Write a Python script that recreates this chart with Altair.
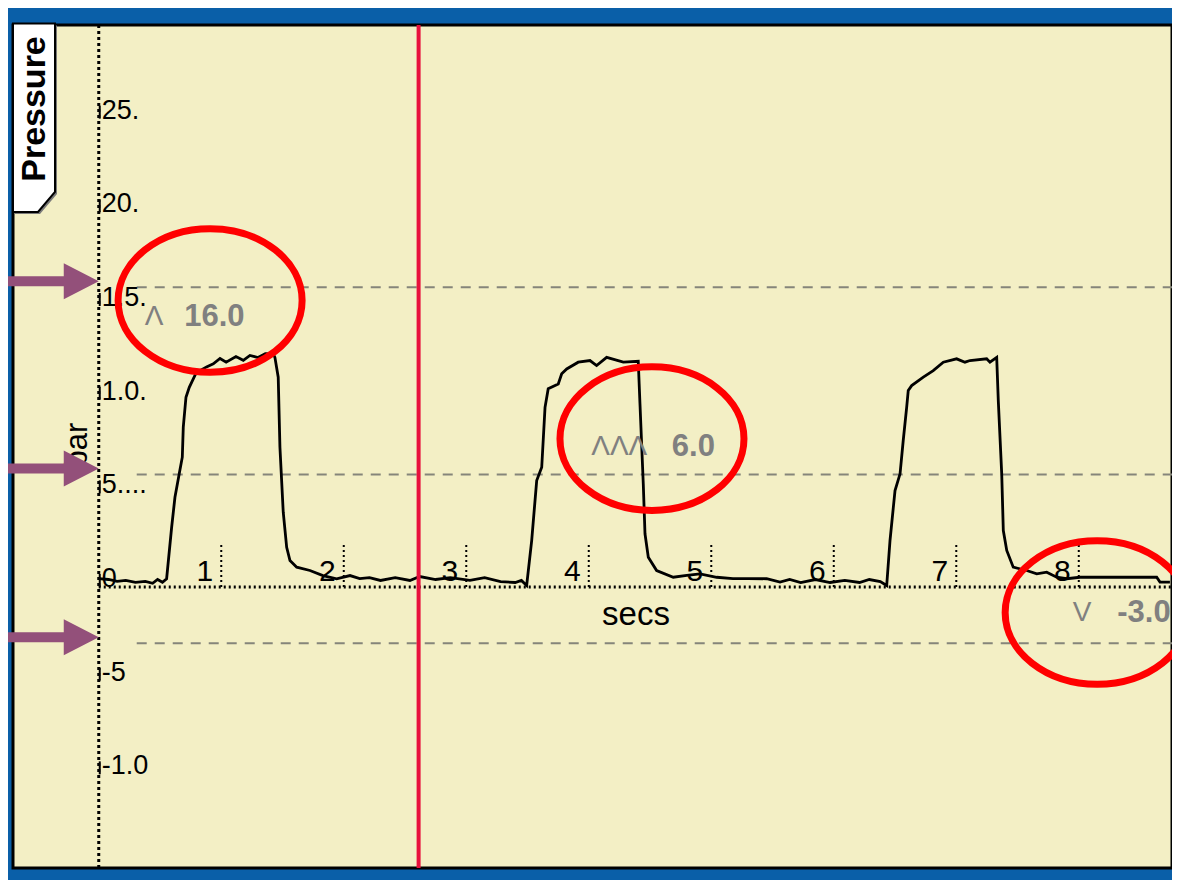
import altair as alt
import pandas as pd

FONT = "Liberation Sans"

# ---- pressure trace (secs, bar) ----
trace_secs = [
    0.00, 0.08, 0.15, 0.22, 0.30, 0.38, 0.44, 0.48, 0.52,
    0.554, 0.595, 0.622, 0.657, 0.682, 0.690, 0.712, 0.739, 0.791, 0.826, 0.880,
    0.935, 0.990, 1.040, 1.120, 1.180, 1.234, 1.300, 1.360, 1.424, 1.438, 1.465,
    1.479, 1.506, 1.534, 1.561, 1.616, 1.724, 1.830, 1.942, 2.051,
    2.13, 2.21, 2.30, 2.42, 2.54, 2.62, 2.75, 2.87, 3.03, 3.15, 3.28, 3.40, 3.45,
    3.493, 3.534, 3.575, 3.616, 3.643, 3.669, 3.751, 3.779, 3.820, 3.914, 4.010,
    4.064, 4.146, 4.282, 4.404, 4.418, 4.445, 4.459, 4.486, 4.554, 4.690, 4.800,
    4.908, 5.044, 5.177, 5.300, 5.452, 5.561,
    5.64, 5.73, 5.85, 5.97, 6.09, 6.21, 6.29, 6.38,
    6.432, 6.459, 6.500, 6.541, 6.567, 6.595, 6.608, 6.636, 6.731, 6.812, 6.894,
    7.003, 7.071, 7.112, 7.248, 7.275, 7.330, 7.343, 7.371, 7.384, 7.412, 7.465,
    7.575, 7.657, 7.738, 7.820, 7.901, 8.010, 8.636, 8.663, 8.744,
]
trace_bar = [
    0.45, 0.40, 0.30, 0.35, 0.25, 0.30, 0.20, 0.40, 0.25,
    0.44, 3.19, 4.79, 6.04, 6.93, 8.53, 10.13, 10.66, 11.38, 11.55, 11.75,
    11.91, 12.20, 12.00, 12.30, 12.10, 12.36, 12.25, 12.45, 12.44, 12.26, 11.20,
    7.46, 3.99, 2.12, 1.41, 1.06, 0.88, 0.61, 0.44, 0.61,
    0.45, 0.50, 0.35, 0.50, 0.35, 0.56, 0.40, 0.50, 0.35, 0.50, 0.29, 0.24, 0.35,
    0.08, 2.48, 5.68, 6.39, 9.59, 10.58, 10.84, 11.38, 11.64, 12.00, 12.09,
    11.82, 12.26, 12.00, 12.05, 9.78, 5.51, 2.84, 1.59, 0.88, 0.52, 0.62,
    0.70, 0.52, 0.45, 0.45, 0.44, 0.26,
    0.40, 0.24, 0.40, 0.24, 0.35, 0.24, 0.40, 0.29,
    0.08, 2.48, 5.15, 6.04, 7.82, 9.59, 10.49, 10.75, 11.20, 11.55, 12.00,
    12.18, 12.00, 12.09, 12.18, 12.00, 12.26, 9.95, 6.04, 3.01, 1.95, 1.06,
    0.88, 0.70, 0.79, 0.52, 0.44, 0.52, 0.52, 0.26, 0.26,
]

# ---- alarm limits ----
limit_values = [16, 6, -3]
limit_start_secs = [0.31, 0.31, 0.31]
limit_end_secs = [8.761, 8.761, 8.761]
limit_symbols = ["Λ", "ΛΛΛ", "V"]
limit_numbers = ["16.0", "6.0", "-3.0"]
symbol_secs = [0.375, 4.02, 7.95]
number_secs = [1.19, 5.03, 8.75]
label_bar = [14.43, 7.50, -1.41]
circle_secs = [0.909, 4.516, 8.15]
circle_bar = [15.29, 7.92, -1.36]
arrow_secs = [0.0, 0.0, 0.0]

# ---- cursor ----
cursor_secs = [2.611]

# ---- axes ----
x_ticks = [1, 2, 3, 4, 5, 6, 7, 8]
y_ticks = [-10, -5, 0, 5, 10, 15, 20, 25]
y_tick_labels = ["-1.0", "-5", "0", "5....", "1.0.", "1.5.", "20.", "25."]
x_title = "secs"
y_title = "bar"
panel_title = "Pressure"

xs = alt.Scale(domain=[-0.7, 8.761], nice=False, zero=False)
ys = alt.Scale(domain=[-15, 30], nice=False, zero=False)

trace_df = pd.DataFrame({"secs": trace_secs, "bar": trace_bar})
limits_df = pd.DataFrame({
    "v": limit_values, "x0": limit_start_secs, "x1": limit_end_secs,
    "sym": limit_symbols, "num": limit_numbers,
    "sx": symbol_secs, "nx": number_secs, "ly": label_bar,
    "cx": circle_secs, "cy": circle_bar, "ax": arrow_secs,
})
cursor_df = pd.DataFrame({"t": cursor_secs})
zero_df = pd.DataFrame({"a": [0.0], "b": [8.761], "y": [0.0]})
xt_df = pd.DataFrame({"t": x_ticks, "z": [0.0] * len(x_ticks)})
yt_df = pd.DataFrame({"v": y_ticks, "lab": y_tick_labels,
                      "a": [0.0] * len(y_ticks)})
yaxis_df = pd.DataFrame({"a": [0.0]})
title_df = pd.DataFrame({"xt": [x_title], "yt": [y_title], "pt": [panel_title]})


def X(field):
    return alt.X(field, type="quantitative", scale=xs, axis=None)


def Y(field):
    return alt.Y(field, type="quantitative", scale=ys, axis=None)


limit_lines = alt.Chart(limits_df).mark_rule(
    color="#85857A", strokeWidth=2, strokeDash=[10, 8]
).encode(x=X("x0"), x2="x1", y=Y("v"))

zero_line = alt.Chart(zero_df).mark_rule(
    color="black", strokeWidth=3, strokeDash=[2, 3]
).encode(x=X("a"), x2="b", y=Y("y"))

y_axis_line = alt.Chart(yaxis_df).mark_rule(
    color="black", strokeWidth=3, strokeDash=[3, 3]
).encode(x=X("a"))

y_tick_marks = alt.Chart(yt_df).mark_tick(
    orient="vertical", size=13, thickness=2, color="black", opacity=1,
    yOffset=-6.5, xOffset=1
).encode(x=X("a"), y=Y("v"))

y_labels = alt.Chart(yt_df).mark_text(
    font=FONT, fontSize=27, color="black", align="left",
    baseline="alphabetic", dx=3
).encode(x=X("a"), y=Y("v"), text="lab:N")

x_tick_marks = alt.Chart(xt_df).mark_rule(
    color="black", strokeWidth=2, strokeDash=[2, 3], y2Offset=-45
).encode(x=X("t"), y=Y("z"), y2="z")

x_labels = alt.Chart(xt_df).mark_text(
    font=FONT, fontSize=30, color="black", align="right",
    baseline="alphabetic", dx=-8, dy=-6
).encode(x=X("t"), y=Y("z"), text=alt.Text("t:Q", format="d"))

x_title_mark = alt.Chart(title_df).mark_text(
    font=FONT, fontSize=33, color="black", align="center",
    baseline="alphabetic"
).encode(x=alt.value(623), y=alt.value(600), text="xt:N")

y_title_mark = alt.Chart(title_df).mark_text(
    font=FONT, fontSize=31, color="black", align="center",
    baseline="alphabetic", angle=270
).encode(x=alt.value(74), y=alt.value(420), text="yt:N")

trace = alt.Chart(trace_df).mark_line(
    color="black", strokeWidth=2.8, interpolate="linear"
).encode(x=X("secs"), y=Y("bar"))

cursor = alt.Chart(cursor_df).mark_rule(color="#E8103C", strokeWidth=4).encode(
    x=X("t")
)

symbols = alt.Chart(limits_df).mark_text(
    font=FONT, fontSize=28, color="#808080", align="left", baseline="middle"
).encode(x=X("sx"), y=Y("ly"), text="sym:N")

numbers = alt.Chart(limits_df).mark_text(
    font=FONT, fontSize=31, fontWeight="bold", color="#808080",
    align="right", baseline="middle"
).encode(x=X("nx"), y=Y("ly"), text="num:N")

ELLIPSE = ("M 1 0 C 1 0.4308 0.5523 0.78 0 0.78 C -0.5523 0.78 -1 0.4308 -1 0 "
           "C -1 -0.4308 -0.5523 -0.78 0 -0.78 C 0.5523 -0.78 1 -0.4308 1 0 Z")
ellipses = alt.Chart(limits_df).mark_point(
    shape=ELLIPSE, filled=False, color="#FF0000", strokeWidth=7,
    size=33856, opacity=1
).encode(x=X("cx"), y=Y("cy"))

ARROW = ("M 0 0 L -0.35 -0.18 L -0.35 -0.05 L -1.0 -0.05 L -1.0 0.05 "
         "L -0.35 0.05 L -0.35 0.18 Z")
arrows = alt.Chart(limits_df).mark_point(
    shape=ARROW, filled=True, color="#93507A", size=40000, opacity=1,
    strokeWidth=0, yOffset=-6
).encode(x=X("ax"), y=Y("v"))

TAB = ("M -0.21 -0.95 L 0.21 -0.95 L 0.21 0.735 L 0.04 0.935 "
       "L -0.21 0.935 Z")
tab_shadow = alt.Chart(title_df).mark_point(
    shape=TAB, filled=True, color="#7A7A7A", size=40000, opacity=1,
    strokeWidth=0
).encode(x=alt.value(23), y=alt.value(95.5))
tab = alt.Chart(title_df).mark_point(
    shape=TAB, filled=True, fill="white", stroke="black", strokeWidth=2,
    size=40000, opacity=1
).encode(x=alt.value(21), y=alt.value(93.5))
tab_text = alt.Chart(title_df).mark_text(
    font=FONT, fontSize=34, fontWeight="bold", color="black", angle=270,
    align="center", baseline="alphabetic"
).encode(x=alt.value(32), y=alt.value(84), text="pt:N")

chart = alt.layer(
    limit_lines, zero_line, y_axis_line, y_tick_marks, y_labels,
    x_tick_marks, x_labels, x_title_mark, y_title_mark,
    trace, cursor, symbols, numbers, ellipses, arrows,
    tab_shadow, tab, tab_text,
).properties(
    width=1159, height=843,
    autosize=alt.AutoSizeParams(type="none"),
    padding={"left": 5, "top": 17, "right": 0, "bottom": 12},
    background="#0A5FA8",
).configure_view(
    fill="#F3EFC5", stroke="black", strokeWidth=3
)

chart.save("out.html", embed_options={"renderer": "svg", "actions": False})
